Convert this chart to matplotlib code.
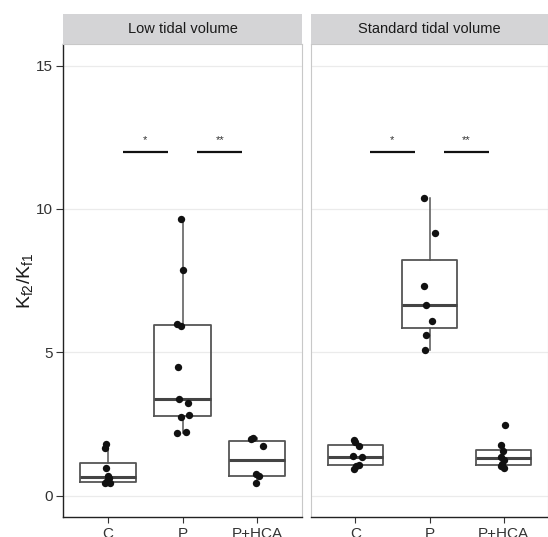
import numpy as np
import matplotlib
matplotlib.use("Agg")
import matplotlib.pyplot as plt

plt.rcParams['font.family'] = ['Liberation Sans', 'DejaVu Sans']
plt.rcParams['mathtext.default'] = 'regular'

# groups and panels
groups = ['C', 'P', 'P+HCA']
panels = ['Low tidal volume', 'Standard tidal volume']

# Kf2/Kf1 values (per panel, per group)
low_c = [1.80, 1.65, 0.97, 0.68, 0.60, 0.50, 0.45, 0.42]
low_p = [9.63, 7.87, 6.00, 5.90, 4.50, 3.38, 3.24, 2.82, 2.73, 2.18, 2.20]
low_hca = [1.97, 2.00, 1.72, 0.76, 0.67, 0.42]
std_c = [1.95, 1.88, 1.71, 1.39, 1.33, 1.08, 1.02, 0.93]
std_p = [10.37, 9.14, 7.32, 6.66, 6.07, 5.60, 5.06]
std_hca = [2.45, 1.76, 1.55, 1.35, 1.25, 1.10, 1.02, 0.97]

# jitter offsets (category units)
low_c_jit = [-0.02, -0.04, -0.02, 0.0, 0.02, -0.01, 0.03, -0.04]
low_p_jit = [-0.02, 0.01, -0.08, -0.02, -0.06, -0.05, 0.08, 0.09, -0.02, -0.08, 0.05]
low_hca_jit = [-0.08, -0.06, 0.08, -0.01, 0.02, -0.01]
std_c_jit = [-0.02, 0.0, 0.05, -0.03, 0.09, 0.05, 0.01, -0.02]
std_p_jit = [-0.07, 0.07, -0.07, -0.05, 0.03, -0.05, -0.06]
std_hca_jit = [0.02, -0.04, -0.01, -0.03, 0.0, -0.02, -0.03, 0.0]

data = [[low_c, low_p, low_hca], [std_c, std_p, std_hca]]
jits = [[low_c_jit, low_p_jit, low_hca_jit], [std_c_jit, std_p_jit, std_hca_jit]]

# significance brackets: (x0, x1, y, label)
sig = [(1.2, 1.8, 12.0, '*'), (2.2, 2.8, 12.0, '**')]

W, H = 548, 537
fig = plt.figure(figsize=(W / 100, H / 100), dpi=100)

panel_x = [(63, 302), (311, 548)]
top, bottom = 44, 517
strip_top = 14

for i, (x0, x1) in enumerate(panel_x):
    ax = fig.add_axes([x0 / W, (H - bottom) / H, (x1 - x0) / W, (bottom - top) / H])

    ax.boxplot(data[i], positions=[1, 2, 3], widths=0.75, whis=1.5, showfliers=False,
               patch_artist=False,
               boxprops=dict(color='#555555', linewidth=1.3),
               whiskerprops=dict(color='#555555', linewidth=1.1),
               capprops=dict(linewidth=0),
               medianprops=dict(color='#444444', linewidth=2.2))

    for k in range(3):
        xs = [k + 1 + j for j in jits[i][k]]
        ax.scatter(xs, data[i][k], s=28, color='#111111', zorder=4, linewidths=0)

    for a, b, y, lab in sig:
        ax.plot([a, b], [y, y], color='#111111', linewidth=1.6, solid_capstyle='butt')
        ax.text((a + b) / 2, y + 0.22, lab, ha='center', va='bottom', fontsize=8,
                color='#333333')

    ax.set_xlim(0.4, 3.6)
    ax.set_ylim(-0.75, 15.75)
    ax.set_yticks([0, 5, 10, 15])
    ax.set_xticks([1, 2, 3])
    ax.set_xticklabels(groups)
    ax.yaxis.grid(True, color='#ebebeb', linewidth=0.9)
    ax.set_axisbelow(True)

    for s in ax.spines.values():
        s.set_color('#c8c8c8')
        s.set_linewidth(0.8)
    ax.spines['bottom'].set_color('#222222')
    ax.spines['bottom'].set_linewidth(1.0)
    if i == 0:
        ax.spines['left'].set_color('#222222')
        ax.spines['left'].set_linewidth(1.0)
        ax.tick_params(axis='y', length=5, width=0.8, color='#333333', labelsize=11,
                       labelcolor='#333333', pad=2)
        ax.set_ylabel(r'$K_{f2}/K_{f1}$', fontsize=14, color='#1a1a1a', labelpad=1)
    else:
        ax.tick_params(axis='y', length=0, labelleft=False)

    ax.tick_params(axis='x', length=4, width=0.8, color='#333333', labelsize=11,
                   labelcolor='#333333', pad=3)

    # facet strip
    sax = fig.add_axes([x0 / W, (H - top) / H, (x1 - x0) / W, (top - strip_top) / H])
    sax.set_facecolor('#d4d4d6')
    sax.set_xticks([])
    sax.set_yticks([])
    for s in sax.spines.values():
        s.set_visible(False)
    sax.text(0.5, 0.5, panels[i], ha='center', va='center', fontsize=10.5,
             color='#1a1a1a', transform=sax.transAxes)

fig.savefig('out.png', dpi=100)
